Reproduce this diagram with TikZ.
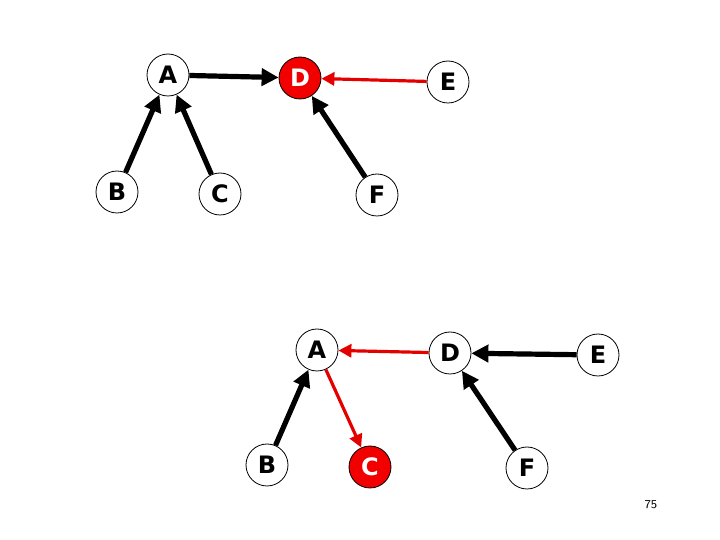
\documentclass[tikz,border=0pt]{standalone}
\usepackage{fontspec}
\newfontfamily\labelfont{DejaVu Sans}
\usetikzlibrary{arrows.meta}

\begin{document}
\begin{tikzpicture}[x=0.5pt, y=-0.5pt,
vertex/.style={circle, draw=black, thin, fill=white, minimum size=21pt, inner sep=0pt, font=\labelfont\bfseries\fontsize{12}{12}\selectfont},
vertex_red/.style={vertex, fill=red!95!black, text=white},
edge_black/.style={-{Triangle[length=8.5pt, width=8.5pt]}, line width=2.6pt, black},
edge_red/.style={-{Triangle[length=6.5pt, width=6.5pt]}, line width=1.6pt, red!90!black},
]
\useasboundingbox (0,0) rectangle (720,540);

% top tree
\node[vertex](top_a) at (168,75){A};
\node[vertex_red](top_d) at (300,78){D};
\node[vertex](top_e) at (448,82){E};
\node[vertex](top_b) at (117,192){B};
\node[vertex](top_c) at (220,194){C};
\node[vertex](top_f) at (377,195){F};

\draw[edge_black] (top_a) -- (top_d);
\draw[edge_red] (top_e) -- (top_d);
\draw[edge_black] (top_b) -- (top_a);
\draw[edge_black] (top_c) -- (top_a);
\draw[edge_black] (top_f) -- (top_d);

% bottom tree
\node[vertex](bot_a) at (317,350){A};
\node[vertex](bot_d) at (450,353){D};
\node[vertex](bot_e) at (598,355){E};
\node[vertex](bot_b) at (267,465){B};
\node[vertex_red](bot_c) at (370,467){C};
\node[vertex](bot_f) at (527,468){F};

\draw[edge_red] (bot_d) -- (bot_a);
\draw[edge_red] (bot_a) -- (bot_c);
\draw[edge_black] (bot_e) -- (bot_d);
\draw[edge_black] (bot_b) -- (bot_a);
\draw[edge_black] (bot_f) -- (bot_d);

% page number
\node[font=\fontsize{6}{6}\selectfont\sffamily](page_num) at (651,505){75};

\end{tikzpicture}
\end{document}
